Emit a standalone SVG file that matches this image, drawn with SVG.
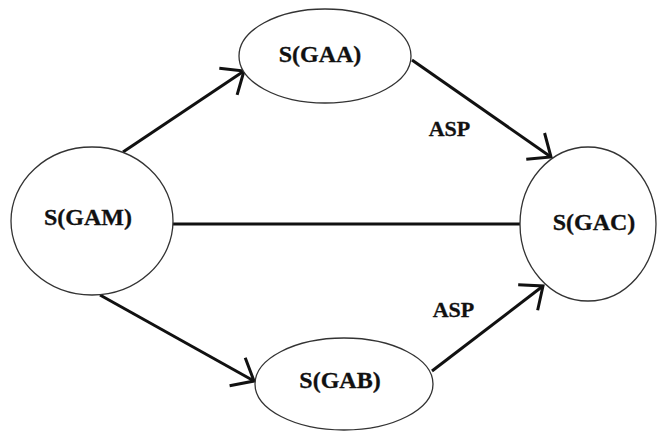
<svg xmlns="http://www.w3.org/2000/svg" width="659" height="436" viewBox="0 0 659 436">
<style>
.node ellipse{fill:#fff;stroke:#333;stroke-width:1.3}
.node text{font-family:"Liberation Serif","Times New Roman",serif;font-weight:bold;font-size:24px;fill:#111;text-anchor:middle;stroke:#111;stroke-width:0.3}
.lbl{font-family:"Liberation Serif","Times New Roman",serif;font-weight:bold;font-size:22px;fill:#111;text-anchor:middle;stroke:#111;stroke-width:0.3}
.edge{stroke:#111;stroke-width:3;fill:none}
</style>
<defs>
<marker id="arr" markerUnits="userSpaceOnUse" markerWidth="40" markerHeight="40" viewBox="-30 -20 40 40" refX="0" refY="0" orient="auto" overflow="visible">
<path d="M-19,-16 L0,0 L-19,16" fill="none" stroke="#111" stroke-width="3" stroke-linejoin="miter"/>
</marker>
</defs>
<rect width="659" height="436" fill="#fff"/>
<g id="connectors">
<line class="edge" x1="123" y1="152" x2="244" y2="71" marker-end="url(#arr)"/>
<line class="edge" x1="412" y1="60" x2="551" y2="157" marker-end="url(#arr)"/>
<line class="edge" x1="173" y1="224" x2="520" y2="224"/>
<line class="edge" x1="100" y1="295" x2="254" y2="381" marker-end="url(#arr)"/>
<line class="edge" x1="432" y1="371" x2="543" y2="286" marker-end="url(#arr)"/>
<text class="lbl" x="449.5" y="136">ASP</text>
<text class="lbl" x="453.5" y="317">ASP</text>
</g>
<g id="GAM" class="node">
<ellipse cx="92" cy="221" rx="81" ry="74"/>
<text x="88" y="225">S(GAM)</text>
</g>
<g id="GAA" class="node">
<ellipse cx="325" cy="56" rx="86" ry="47"/>
<text x="320" y="62">S(GAA)</text>
</g>
<g id="GAC" class="node">
<ellipse cx="588" cy="224" rx="68" ry="77"/>
<text x="594" y="230">S(GAC)</text>
</g>
<g id="GAB" class="node">
<ellipse cx="344" cy="384" rx="89" ry="46"/>
<text x="340" y="388">S(GAB)</text>
</g>
</svg>
